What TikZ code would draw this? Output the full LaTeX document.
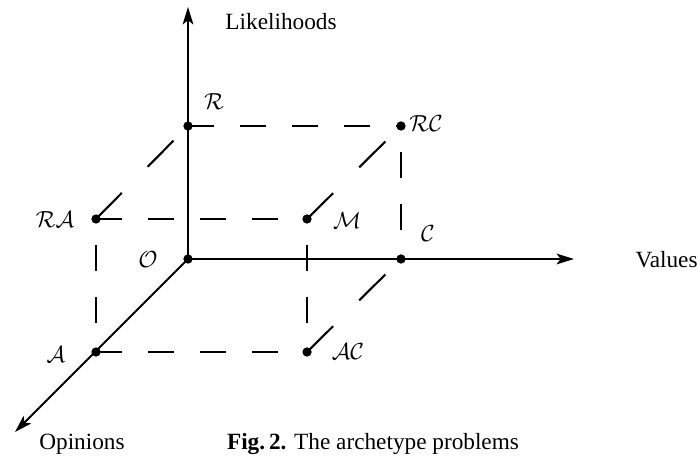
\documentclass[tikz,border=0pt]{standalone}
\usepackage{fontspec}
\setmainfont{Liberation Serif}
\usetikzlibrary{arrows.meta}

\begin{document}
\begin{tikzpicture}[x=0.43pt,y=-0.43pt,
  >={Stealth[length=7.5pt,width=4.6pt,inset=1.8pt]},
  axis/.style={line width=0.9pt,->},
  hedge/.style={line width=0.9pt,dash pattern=on 11.2pt off 11.2pt},
  vedge/.style={hedge,dash phase=11.2pt},
  dedge/.style={line width=0.9pt,dash pattern=on 15.8pt off 15.8pt},
  dot/.style={circle,fill,inner sep=0pt,minimum size=4pt},
  lab/.style={inner sep=0pt},
  every node/.style={font=\normalsize}]
\useasboundingbox (0,0) rectangle (698,457);
% back face
\node[dot] (O) at (188,259) {};
\node[dot] (R) at (188,126) {};
\node[dot] (C) at (401,259) {};
\node[dot] (RC) at (401,126) {};
% front face
\node[dot] (A) at (96,352) {};
\node[dot] (RA) at (96,219) {};
\node[dot] (AC) at (307,352) {};
\node[dot] (M) at (307,219) {};
% axis ends
\coordinate (ltip) at (188,7);
\coordinate (vtip) at (574,259);
\coordinate (otip) at (15,432);
% dashed edges
\draw[hedge] (R.center) -- (RC.center);
\draw[hedge] (RA.center) -- (M.center);
\draw[hedge] (A.center) -- (AC.center);
\draw[vedge] (RA.center) -- (A.center);
\draw[vedge] (M.center) -- (AC.center);
\draw[vedge] (RC.center) -- (C.center);
\draw[dedge] (RA.center) -- (R.center);
\draw[dedge] (M.center) -- (RC.center);
\draw[dedge] (AC.center) -- (C.center);
% axes
\draw[axis] (O.center) -- (ltip);
\draw[axis] (O.center) -- (vtip);
\draw[axis] (O.center) -- (otip);
% point labels
\node[lab] (lR) at (214,102) {$\mathcal{R}$};
\node[lab] (lRC) at (426,124) {$\mathcal{RC}$};
\node[lab] (lRA) at (55,220) {$\mathcal{RA}$};
\node[lab] (lM) at (347,221) {$\mathcal{M}$};
\node[lab] (lC) at (428,234) {$\mathcal{C}$};
\node[lab] (lO) at (148,260) {$\mathcal{O}$};
\node[lab] (lA) at (56,355) {$\mathcal{A}$};
\node[lab] (lAC) at (348,352) {$\mathcal{AC}$};
% axis names and caption
\node[lab,anchor=base] (likely) at (281,30) {Likelihoods};
\node[lab,anchor=base east] (values) at (698,267) {Values};
\node[lab,anchor=base] (opin) at (82,449) {Opinions};
\node[lab,anchor=base] (cap) at (373,449) {\textbf{Fig.\,2.} The archetype problems};
\end{tikzpicture}
\end{document}
